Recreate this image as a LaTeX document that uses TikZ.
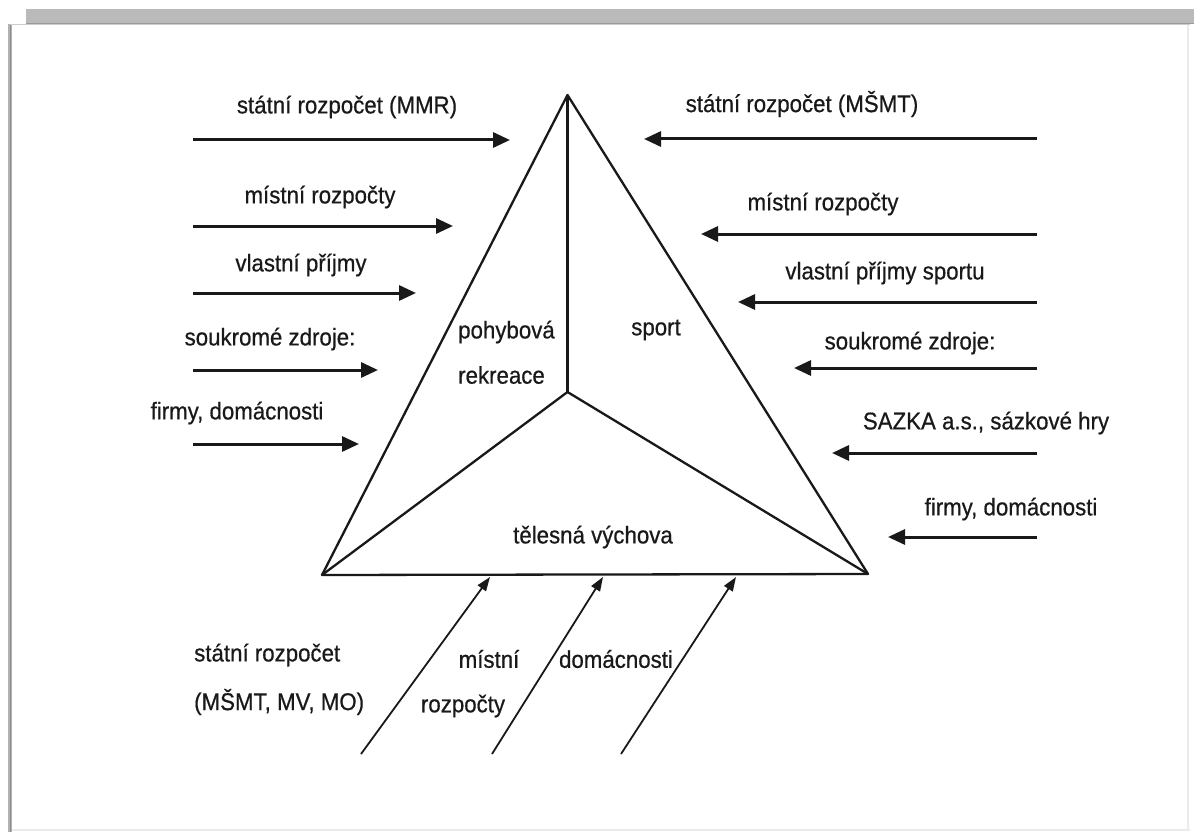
\documentclass[tikz,border=0pt]{standalone}
\usepackage{fontspec}
\setmainfont{Liberation Sans}[FakeStretch=0.92, FakeBold=0.6]
\usetikzlibrary{arrows.meta}
\begin{document}
\begin{tikzpicture}[x=1pt,y=-1pt,
  lbl/.style={font=\fontsize{24.2}{28}\selectfont, inner sep=0pt, text=black!90},
  flow/.style={line width=3pt, draw=black!90, -{Triangle[length=17pt,width=15pt]}},
  upflow/.style={line width=1.8pt, draw=black!90, -{Triangle[length=14pt,width=10pt]}},
  tri/.style={line width=2.3pt, draw=black!90, line join=round}]
\useasboundingbox (0,0) rectangle (1194,832);
% frame
\fill[white] (0,0) rectangle (1194,832);
\fill[black!27] (26,9) rectangle (1194,24);
\draw[black!40, line width=1.2pt] (26,23.5) -- (1194,23.5);
\fill[black!30] (8,24) rectangle (12,832);
\draw[black!45, line width=1pt] (10,24) -- (10,832);
\draw[black!20, line width=0.8pt] (10,24.5) -- (1190,24.5);
\draw[black!8, line width=2pt] (12,830) -- (1190,830);
\draw[black!8, line width=1.5pt] (1188,25) -- (1188,830);
% triangle
\coordinate (A) at (567.5,95);
\coordinate (BL) at (322,575);
\coordinate (BR) at (868,574);
\coordinate (C) at (567.5,392);
\draw[tri] (A) -- (BL) -- (BR) -- cycle;
\draw[tri] (A) -- (C);
\draw[tri] (C) -- (BL);
\draw[tri] (C) -- (BR);
% inner labels
\node[lbl, anchor=west] (pr1) at (458,332) {pohybová};
\node[lbl, anchor=west] (pr2) at (458,375) {rekreace};
\node[lbl] (sp) at (656,330) {sport};
\node[lbl] (tv) at (593,537) {tělesná výchova};
% left arrows
\coordinate (la1s) at (193,140); \coordinate (la1e) at (510,140);
\coordinate (la2s) at (193,226); \coordinate (la2e) at (453,226);
\coordinate (la3s) at (193,293); \coordinate (la3e) at (416,293);
\coordinate (la4s) at (193,370); \coordinate (la4e) at (378,370);
\coordinate (la5s) at (193,444); \coordinate (la5e) at (359,444);
\draw[flow] (la1s) -- (la1e);
\draw[flow] (la2s) -- (la2e);
\draw[flow] (la3s) -- (la3e);
\draw[flow] (la4s) -- (la4e);
\draw[flow] (la5s) -- (la5e);
\node[lbl] (l1) at (347,107) {státní rozpočet (MMR)};
\node[lbl] (l2) at (320,197) {místní rozpočty};
\node[lbl] (l3) at (301,265) {vlastní příjmy};
\node[lbl] (l4) at (270,339) {soukromé zdroje:};
\node[lbl] (l5) at (237,413) {firmy, domácnosti};
% right arrows
\coordinate (ra1s) at (1037,139); \coordinate (ra1e) at (644,139);
\coordinate (ra2s) at (1037,234); \coordinate (ra2e) at (701,234);
\coordinate (ra3s) at (1037,302); \coordinate (ra3e) at (738,302);
\coordinate (ra4s) at (1037,368); \coordinate (ra4e) at (794,368);
\coordinate (ra5s) at (1037,453); \coordinate (ra5e) at (832,453);
\coordinate (ra6s) at (1037,537); \coordinate (ra6e) at (888,537);
\draw[flow] (ra1s) -- (ra1e);
\draw[flow] (ra2s) -- (ra2e);
\draw[flow] (ra3s) -- (ra3e);
\draw[flow] (ra4s) -- (ra4e);
\draw[flow] (ra5s) -- (ra5e);
\draw[flow] (ra6s) -- (ra6e);
\node[lbl] (r1) at (802,104) {státní rozpočet (MŠMT)};
\node[lbl] (r2) at (823,204) {místní rozpočty};
\node[lbl] (r3) at (885,273) {vlastní příjmy sportu};
\node[lbl] (r4) at (910,343) {soukromé zdroje:};
\node[lbl] (r5) at (986,423) {SAZKA a.s., sázkové hry};
\node[lbl] (r6) at (1011,509) {firmy, domácnosti};
% bottom arrows
\coordinate (ba1s) at (361,754); \coordinate (ba1e) at (490,577);
\coordinate (ba2s) at (492,754); \coordinate (ba2e) at (603,577);
\coordinate (ba3s) at (621,754); \coordinate (ba3e) at (736,577);
\draw[upflow] (ba1s) -- (ba1e);
\draw[upflow] (ba2s) -- (ba2e);
\draw[upflow] (ba3s) -- (ba3e);
\node[lbl, anchor=west] (b1) at (194,655) {státní rozpočet};
\node[lbl, anchor=west] (b2) at (194,702) {(MŠMT, MV, MO)};
\node[lbl] (b3) at (489,659) {místní};
\node[lbl] (b4) at (463,706) {rozpočty};
\node[lbl] (b5) at (616,659) {domácnosti};
\end{tikzpicture}
\end{document}
